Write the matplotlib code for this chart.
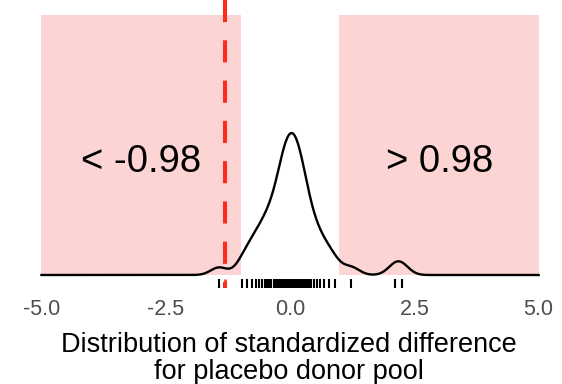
import numpy as np
import matplotlib
matplotlib.use("Agg")
import matplotlib.pyplot as plt
from matplotlib.transforms import blended_transform_factory

plt.rcParams["font.family"] = ["Liberation Sans", "DejaVu Sans"]

# Standardized differences for the placebo donor pool
donor_diffs = [-1.43, -0.96, -0.86, -0.77, -0.69, -0.62, -0.56, -0.51, -0.46,
               -0.42, -0.38, -0.33, -0.28, -0.24,
               -0.20, -0.18, -0.16, -0.14, -0.12, -0.10, -0.08, -0.06, -0.04,
               -0.02, 0.00, 0.02, 0.04, 0.06, 0.08, 0.10, 0.12, 0.14, 0.16,
               0.18, 0.20, 0.22, 0.24, 0.26,
               0.30, 0.34, 0.38, 0.43, 0.48, 0.54, 0.61, 0.69, 0.79, 0.90,
               1.23, 2.11, 2.25]
treated_diff = -1.31
threshold = 0.98
x_range = (-5.0, 5.0)
x_ticks = [-5.0, -2.5, 0.0, 2.5, 5.0]
x_ticklabels = ["-5.0", "-2.5", "0.0", "2.5", "5.0"]

# Gaussian kernel density with R's default (nrd0) bandwidth
vals = np.asarray(donor_diffs)
n = vals.size
iqr = np.subtract(*np.percentile(vals, [75, 25]))
bw = 0.9 * min(vals.std(ddof=1), iqr / 1.34) * n ** (-0.2)
grid = np.linspace(x_range[0], x_range[1], 1024)
dens = np.exp(-0.5 * ((grid[:, None] - vals[None, :]) / bw) ** 2).sum(axis=1)
dens /= n * bw * np.sqrt(2 * np.pi)

ymax = dens.max() / 0.546

fig = plt.figure(figsize=(5.62, 3.84), dpi=100)
ax = fig.add_axes([16.6 / 562, 0.25, (562 - 16.6) / 562, 0.75])
ax.set_xlim(-5.5, 5.47)
ax.set_ylim(-0.05 * ymax, ymax * (1 + 15 / 260))

shade = dict(color="#f20000", alpha=0.17, linewidth=0, zorder=1)
ax.fill_between([x_range[0], -threshold], 0, ymax, **shade)
ax.fill_between([threshold, x_range[1]], 0, ymax, **shade)

ax.plot(grid, dens, color="black", linewidth=1.7, zorder=3)

trans = blended_transform_factory(ax.transData, ax.transAxes)
ax.vlines(donor_diffs, 0, 0.03, transform=trans, color="black",
          linewidth=1.5, zorder=3)
ax.vlines([treated_diff], 0, 0.03, transform=trans, color="#ff2a1a",
          linewidth=1.8, zorder=4)

vline = ax.plot([treated_diff, treated_diff], [1, 0], transform=trans,
                color="#ff2a1a", linewidth=2.9, zorder=5)[0]
vline.set_dashes((5.5, 4.5))

ax.text(-3.0, 0.397 * ymax, f"< -{threshold:.2f}", ha="center",
        va="baseline", fontsize=27.5, color="black", zorder=6)
ax.text(3.0, 0.397 * ymax, f"> {threshold:.2f}", ha="center",
        va="baseline", fontsize=27.5, color="black", zorder=6)

ax.set_xticks(x_ticks)
ax.set_xticklabels(x_ticklabels)
ax.tick_params(axis="x", length=0, labelsize=15.5, labelcolor="#4d4d4d", pad=8)
ax.set_yticks([])
for s in ax.spines.values():
    s.set_visible(False)

ax.set_xlabel("Distribution of standardized difference\nfor placebo donor pool",
              fontsize=19.5, color="black", labelpad=8.5, linespacing=1.07)

fig.savefig("out.png", dpi=100)
